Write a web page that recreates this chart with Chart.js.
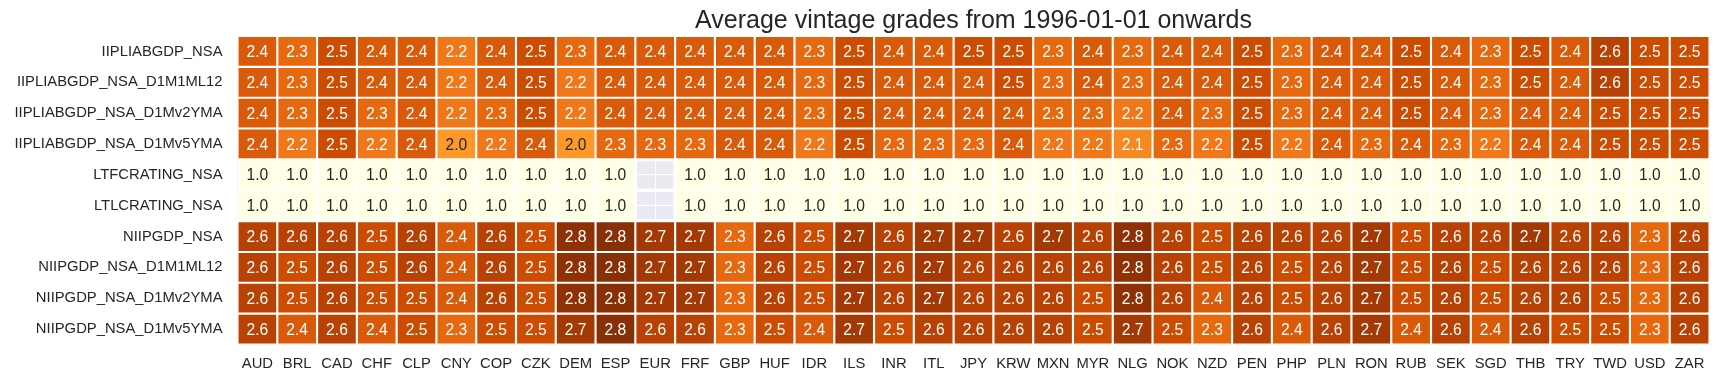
<!DOCTYPE html>
<html>
<head>
<meta charset="utf-8">
<script src="https://cdn.jsdelivr.net/npm/chart.js@4.4.1/dist/chart.umd.min.js"></script>
<style>
html,body{margin:0;padding:0;background:#ffffff;}
#wrap{width:1719px;height:381px;position:relative;}
</style>
</head>
<body>
<div id="wrap"><canvas id="c" width="1719" height="381"></canvas></div>
<script>
// ---- data ----
const chartTitle = 'Average vintage grades from 1996-01-01 onwards';
const currencies = ['AUD','BRL','CAD','CHF','CLP','CNY','COP','CZK','DEM','ESP','EUR','FRF','GBP','HUF','IDR','ILS','INR','ITL','JPY','KRW','MXN','MYR','NLG','NOK','NZD','PEN','PHP','PLN','RON','RUB','SEK','SGD','THB','TRY','TWD','USD','ZAR'];
const rowLabels = ['IIPLIABGDP_NSA','IIPLIABGDP_NSA_D1M1ML12','IIPLIABGDP_NSA_D1Mv2YMA','IIPLIABGDP_NSA_D1Mv5YMA','LTFCRATING_NSA','LTLCRATING_NSA','NIIPGDP_NSA','NIIPGDP_NSA_D1M1ML12','NIIPGDP_NSA_D1Mv2YMA','NIIPGDP_NSA_D1Mv5YMA'];

const iiplNsa      = [2.4,2.3,2.5,2.4,2.4,2.2,2.4,2.5, 2.3,2.4,2.4,2.4,2.4,2.4,2.3,2.5, 2.4,2.4,2.5,2.5,2.3,2.4,2.3,2.4, 2.4,2.5,2.3,2.4,2.4,2.5,2.4, 2.3,2.5,2.4,2.6,2.5,2.5];
const iiplD1M1ML12 = [2.4,2.3,2.5,2.4,2.4,2.2,2.4,2.5, 2.2,2.4,2.4,2.4,2.4,2.4,2.3,2.5, 2.4,2.4,2.4,2.5,2.3,2.4,2.3,2.4, 2.4,2.5,2.3,2.4,2.4,2.5,2.4, 2.3,2.5,2.4,2.6,2.5,2.5];
const iiplD1Mv2YMA = [2.4,2.3,2.5,2.3,2.4,2.2,2.3,2.5, 2.2,2.4,2.4,2.4,2.4,2.4,2.3,2.5, 2.4,2.4,2.4,2.4,2.3,2.3,2.2,2.4, 2.3,2.5,2.3,2.4,2.4,2.5,2.4, 2.3,2.4,2.4,2.5,2.5,2.5];
const iiplD1Mv5YMA = [2.4,2.2,2.5,2.2,2.4,2.0,2.2,2.4, 2.0,2.3,2.3,2.3,2.4,2.4,2.2,2.5, 2.3,2.3,2.3,2.4,2.2,2.2,2.1,2.3, 2.2,2.5,2.2,2.4,2.3,2.4,2.3, 2.2,2.4,2.4,2.5,2.5,2.5];
const ltfcRating   = [1.0,1.0,1.0,1.0,1.0,1.0,1.0,1.0, 1.0,1.0,null,1.0,1.0,1.0,1.0,1.0, 1.0,1.0,1.0,1.0,1.0,1.0,1.0,1.0, 1.0,1.0,1.0,1.0,1.0,1.0,1.0, 1.0,1.0,1.0,1.0,1.0,1.0];
const ltlcRating   = [1.0,1.0,1.0,1.0,1.0,1.0,1.0,1.0, 1.0,1.0,null,1.0,1.0,1.0,1.0,1.0, 1.0,1.0,1.0,1.0,1.0,1.0,1.0,1.0, 1.0,1.0,1.0,1.0,1.0,1.0,1.0, 1.0,1.0,1.0,1.0,1.0,1.0];
const niipNsa      = [2.6,2.6,2.6,2.5,2.6,2.4,2.6,2.5, 2.8,2.84,2.7,2.7,2.3,2.6,2.5,2.7, 2.6,2.7,2.7,2.6,2.7,2.6,2.8,2.6, 2.5,2.6,2.6,2.6,2.7,2.5,2.6, 2.6,2.7,2.6,2.6,2.3,2.6];
const niipD1M1ML12 = [2.6,2.5,2.6,2.5,2.6,2.4,2.6,2.5, 2.8,2.84,2.7,2.7,2.3,2.6,2.5,2.7, 2.6,2.7,2.6,2.6,2.6,2.6,2.8,2.6, 2.5,2.6,2.5,2.6,2.7,2.5,2.6, 2.5,2.6,2.6,2.6,2.3,2.6];
const niipD1Mv2YMA = [2.6,2.5,2.6,2.5,2.5,2.4,2.6,2.5, 2.8,2.84,2.7,2.7,2.3,2.6,2.5,2.7, 2.6,2.7,2.6,2.6,2.6,2.5,2.8,2.6, 2.4,2.6,2.5,2.6,2.7,2.5,2.6, 2.5,2.6,2.6,2.5,2.3,2.6];
const niipD1Mv5YMA = [2.6,2.4,2.6,2.4,2.5,2.3,2.5,2.5, 2.7,2.84,2.6,2.6,2.3,2.5,2.4,2.7, 2.5,2.6,2.6,2.6,2.6,2.5,2.7,2.5, 2.3,2.6,2.4,2.6,2.7,2.4,2.6, 2.4,2.6,2.5,2.5,2.3,2.6];

const rowValues = [iiplNsa, iiplD1M1ML12, iiplD1Mv2YMA, iiplD1Mv5YMA, ltfcRating, ltlcRating, niipNsa, niipD1M1ML12, niipD1Mv2YMA, niipD1Mv5YMA];

// ---- styling ----
const FONT = '"Liberation Sans", Arial, Helvetica, sans-serif';
const TEXT_DARK = '#262626';
const VMIN = 1.0, VMAX = 3.0;
const YLORBR = ['#ffffe5','#fff7bc','#fee391','#fec44f','#fe9929','#ec7014','#cc4c02','#993404','#662506'];

function hexToRgb(h){ return [parseInt(h.slice(1,3),16), parseInt(h.slice(3,5),16), parseInt(h.slice(5,7),16)]; }
const STOPS = YLORBR.map(hexToRgb);
function cmapRgb(v){
  let t = (v - VMIN) / (VMAX - VMIN);
  t = Math.max(0, Math.min(1, t));
  const p = t * (STOPS.length - 1);
  const i = Math.min(Math.floor(p), STOPS.length - 2);
  const f = p - i;
  const a = STOPS[i], b = STOPS[i+1];
  return [0,1,2].map(k => a[k] + (b[k]-a[k]) * f);
}
function cmap(v){ const c = cmapRgb(v); return 'rgb(' + c.map(x => Math.round(x)).join(',') + ')'; }
function textColorFor(v){
  const lin = cmapRgb(v).map(x => { const s = x/255; return s <= 0.03928 ? s/12.92 : Math.pow((s+0.055)/1.055, 2.4); });
  const lum = 0.2126*lin[0] + 0.7152*lin[1] + 0.0722*lin[2];
  return lum > 0.408 ? TEXT_DARK : '#ffffff';
}

const datasets = rowValues.map((vals, r) => ({
  label: rowLabels[r],
  data: vals.map(() => [r, r + 1]),
  cellValues: vals,
  backgroundColor: vals.map(v => v == null ? 'rgba(0,0,0,0)' : cmap(v)),
  borderColor: '#ffffff',
  borderWidth: 1.4,
  borderSkipped: false,
  grouped: false,
  barPercentage: 1,
  categoryPercentage: 1
}));

const areaBg = {
  id: 'areaBg',
  beforeDraw(chart){
    const {ctx, chartArea: a} = chart;
    ctx.save();
    ctx.fillStyle = '#eaeaf2';
    ctx.fillRect(a.left, a.top, a.right - a.left, a.bottom - a.top);
    ctx.restore();
  }
};

const CELL_FONT = 15.6;
const cellLabels = {
  id: 'cellLabels',
  afterDatasetsDraw(chart){
    const ctx = chart.ctx;
    ctx.save();
    ctx.font = CELL_FONT + 'px ' + FONT;
    ctx.textAlign = 'center';
    ctx.textBaseline = 'alphabetic';
    chart.data.datasets.forEach((ds, di) => {
      const meta = chart.getDatasetMeta(di);
      meta.data.forEach((el, i) => {
        const v = ds.cellValues[i];
        if (v == null) return;
        const p = el.getProps(['x','y','base'], true);
        const cy = (p.y + p.base) / 2;
        ctx.fillStyle = textColorFor(v);
        ctx.fillText(v.toFixed(1), p.x, cy + 0.358 * CELL_FONT);
      });
    });
    ctx.restore();
  }
};

new Chart(document.getElementById('c'), {
  type: 'bar',
  data: { labels: currencies, datasets },
  options: {
    responsive: false,
    animation: false,
    devicePixelRatio: 1,
    layout: { padding: { left: 0, right: 9.5, top: 0, bottom: 0 } },
    plugins: {
      legend: { display: false },
      tooltip: { enabled: false },
      title: {
        display: true,
        text: chartTitle,
        fullSize: false,
        color: TEXT_DARK,
        font: { family: FONT, size: 25, weight: 'normal', lineHeight: 1.2 },
        padding: { top: 6, bottom: 0 }
      }
    },
    scales: {
      x: {
        type: 'category',
        offset: true,
        afterFit(axis){ axis.height = 36.5; },
        ticks: { color: TEXT_DARK, font: { family: FONT, size: 14.8 }, padding: 11, maxRotation: 0, minRotation: 0, autoSkip: false },
        grid: { color: '#ffffff', lineWidth: 1, offset: false, drawTicks: false },
        border: { display: false }
      },
      y: {
        type: 'linear',
        min: 0,
        max: rowLabels.length,
        reverse: true,
        afterBuildTicks(axis){ axis.ticks = rowLabels.map((_, i) => ({ value: i + 0.5 })); },
        afterFit(axis){ axis.width = 237.5; },
        ticks: { color: TEXT_DARK, font: { family: FONT, size: 14.8 }, padding: 15, autoSkip: false, callback: (v, i) => rowLabels[i] },
        grid: { color: '#ffffff', lineWidth: 1, drawTicks: false },
        border: { display: false }
      }
    }
  },
  plugins: [areaBg, cellLabels]
});
</script>
</body>
</html>
